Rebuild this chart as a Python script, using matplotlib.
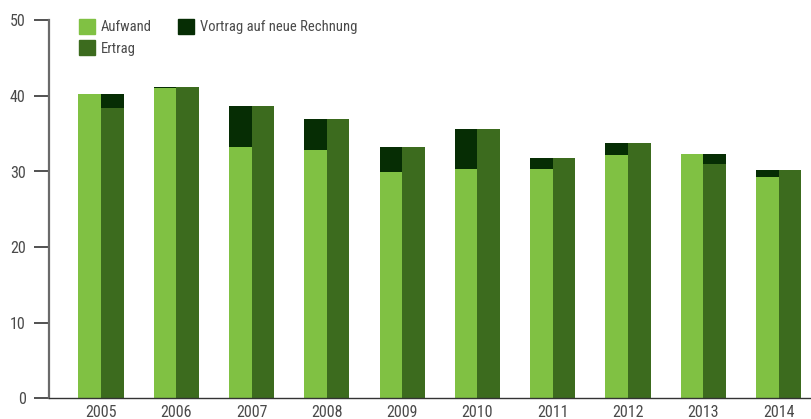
import matplotlib
matplotlib.use("Agg")
import matplotlib.pyplot as plt
from matplotlib.patches import Patch
from matplotlib import font_manager
import numpy as np

years = ["2005", "2006", "2007", "2008", "2009", "2010", "2011", "2012", "2013", "2014"]
aufwand = [40.25, 41.05, 33.25, 32.85, 29.95, 30.35, 30.35, 32.2, 32.3, 29.3]
ertrag = [38.4, 41.15, 38.65, 36.95, 33.25, 35.6, 31.8, 33.8, 31.0, 30.2]
# signed: positive -> stacked on Aufwand, negative -> stacked on Ertrag
vortrag = [-1.85, 0.1, 5.4, 4.1, 3.3, 5.25, 1.45, 1.6, -1.3, 0.9]
yticks = [0, 10, 20, 30, 40, 50]

c_auf = "#80c143"
c_ert = "#3c6b1e"
c_vor = "#062d04"
txt = "#4a4a4a"

names = {f.name for f in font_manager.fontManager.ttflist}
chosen = "DejaVu Sans"
for cand in ["Roboto Condensed", "Archivo Narrow", "Barlow Semi Condensed", "Asap Condensed"]:
    if cand in names:
        chosen = cand
        break
plt.rcParams["font.family"] = [chosen, "DejaVu Sans"]

fig = plt.figure(figsize=(8.11, 4.19), dpi=100)
ax = fig.add_axes([49 / 811, (419 - 398.3) / 419, (811 - 49) / 811, (398.3 - 20.3) / 419])

x = np.arange(len(years))
w = 0.3
auf = np.array(aufwand)
ert = np.array(ertrag)
v = np.array(vortrag)

ax.bar(x - w, auf, width=w, align="edge", color=c_auf, linewidth=0)
ax.bar(x, ert, width=w, align="edge", color=c_ert, linewidth=0)
pos = v >= 0
ax.bar(x[pos] - w, v[pos], bottom=auf[pos], width=w, align="edge", color=c_vor, linewidth=0)
ax.bar(x[~pos], -v[~pos], bottom=ert[~pos], width=w, align="edge", color=c_vor, linewidth=0)

ax.set_xlim(-0.69, 9.43)
ax.set_ylim(0, 50)
ax.set_yticks(yticks)
ax.set_yticklabels([str(t) for t in yticks])
ax.set_xticks(x)
ax.set_xticklabels(years)

for s in ["top", "right"]:
    ax.spines[s].set_visible(False)
ax.spines["left"].set_color("#6a6a6a")
ax.spines["left"].set_linewidth(1.6)
ax.spines["bottom"].set_color("#333333")
ax.spines["bottom"].set_linewidth(1.0)
ax.spines["bottom"].set_zorder(5)

fsz = 11.5
ax.tick_params(axis="y", length=10.8, width=1.2, color="#333333", pad=6,
               labelsize=fsz, labelcolor=txt)
ax.tick_params(axis="x", length=0, pad=4.5, labelsize=fsz, labelcolor=txt)

handles = [Patch(color=c_auf, label="Aufwand"),
           Patch(color=c_ert, label="Ertrag"),
           Patch(color=c_vor, label="Vortrag auf neue Rechnung")]
lsz = 10.5
leg = ax.legend(handles=handles, ncol=2, loc="upper left",
                bbox_to_anchor=(79 / 811, 1 - 19 / 419), bbox_transform=fig.transFigure,
                frameon=False, handlelength=1.1, handleheight=1.2, handletextpad=0.42,
                columnspacing=1.75, labelspacing=0.4, borderpad=0, borderaxespad=0,
                fontsize=lsz, labelcolor=txt)

fig.savefig("out.png", dpi=100)
